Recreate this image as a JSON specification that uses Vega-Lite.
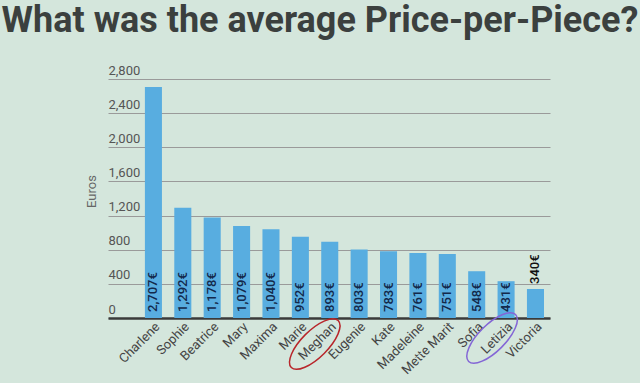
{
  "$schema": "https://vega.github.io/schema/vega-lite/v6.json",
  "width": 442,
  "height": 239,
  "autosize": "none",
  "padding": {"left": 108, "top": 79, "right": 90, "bottom": 65},
  "background": "#d4e6dc",
  "title": {
    "text": "What was the average Price-per-Piece?",
    "font": "Roboto",
    "fontSize": 36,
    "fontWeight": "bold",
    "color": "#3b403e",
    "anchor": "middle",
    "frame": "group",
    "dx": -9,
    "offset": 24
  },
  "config": {
    "view": {"stroke": null},
    "axisY": {
      "labelAlign": "left",
      "labelBaseline": "bottom",
      "labelPadding": 0,
      "labelOffset": -2,
      "labelOverlap": false,
      "labelBound": false,
      "labelFont": "Roboto",
      "labelFontSize": 13,
      "labelColor": "#555555",
      "ticks": false,
      "domain": false,
      "gridColor": "#9a9a9a",
      "gridWidth": 1,
      "titleFont": "Roboto",
      "titleFontSize": 13,
      "titleFontWeight": "normal",
      "titleColor": "#666666",
      "titleX": -10,
      "titleY": 112,
      "titleAngle": -90,
      "titleAlign": "center",
      "titleBaseline": "bottom"
    }
  },
  "data": {
    "values": [
      {"name": "Charlene", "price": 2707},
      {"name": "Sophie", "price": 1292},
      {"name": "Beatrice", "price": 1178},
      {"name": "Mary", "price": 1079},
      {"name": "Maxima", "price": 1040},
      {"name": "Marie", "price": 952},
      {"name": "Meghan", "price": 893},
      {"name": "Eugenie", "price": 803},
      {"name": "Kate", "price": 783},
      {"name": "Madeleine", "price": 761},
      {"name": "Mette Marit", "price": 751},
      {"name": "Sofia", "price": 548},
      {"name": "Letizia", "price": 431},
      {"name": "Victoria", "price": 340}
    ]
  },
  "encoding": {
    "x": {
      "field": "name",
      "type": "nominal",
      "sort": null,
      "scale": {"paddingInner": 0.42, "paddingOuter": 0.73, "align": 0.86},
      "axis": {
        "title": null,
        "labelAngle": -45,
        "labelFont": "Roboto",
        "labelFontSize": 13,
        "labelColor": "#444444",
        "labelPadding": 2,
        "labelOverlap": false,
        "ticks": false,
        "domainColor": "#3a3a3a",
        "domainWidth": 2.5
      }
    },
    "y": {
      "field": "price",
      "type": "quantitative",
      "scale": {"domain": [0, 2800], "nice": false},
      "axis": {
        "title": "Euros",
        "values": [0, 400, 800, 1200, 1600, 2000, 2400, 2800],
        "format": ",.0f",
        "labelOverlap": false
      }
    }
  },
  "layer": [
    {
      "mark": {"type": "bar", "color": "#58ade0"}
    },
    {
      "transform": [
        {"filter": "datum.price >= 400"},
        {"calculate": "format(datum.price, ',') + '€'", "as": "label"}
      ],
      "mark": {
        "type": "text",
        "angle": 270,
        "align": "left",
        "baseline": "middle",
        "dx": 6,
        "font": "Roboto",
        "fontSize": 13,
        "fontWeight": 500,
        "color": "#13294b"
      },
      "encoding": {
        "y": {
          "datum": 0,
          "type": "quantitative",
          "axis": {
            "title": "Euros",
            "values": [0, 400, 800, 1200, 1600, 2000, 2400, 2800],
            "format": ",.0f",
            "labelOverlap": false
          }
        },
        "text": {"field": "label"}
      }
    },
    {
      "transform": [
        {"filter": "datum.price < 400"},
        {"calculate": "format(datum.price, ',') + '€'", "as": "label"}
      ],
      "mark": {
        "type": "text",
        "angle": 270,
        "align": "left",
        "baseline": "middle",
        "dx": 5,
        "font": "Roboto",
        "fontSize": 13,
        "fontWeight": 500,
        "color": "#111111"
      },
      "encoding": {
        "text": {"field": "label"}
      }
    },
    {
      "transform": [{"filter": "datum.name == 'Meghan'"}],
      "mark": {
        "type": "point",
        "shape": "M 0.707,-0.707 C 0.863,-0.551 0.673,-0.107 0.283,0.283 C -0.107,0.673 -0.551,0.863 -0.707,0.707 C -0.863,0.551 -0.673,0.107 -0.283,-0.283 C 0.107,-0.673 0.551,-0.863 0.707,-0.707 Z",
        "size": 4400,
        "filled": false,
        "clip": false,
        "stroke": "#b8262b",
        "strokeWidth": 1.5,
        "strokeOpacity": 1,
        "opacity": 1,
        "xOffset": -15
      },
      "encoding": {
        "y": {
          "datum": -305,
          "type": "quantitative",
          "axis": {
            "title": "Euros",
            "values": [0, 400, 800, 1200, 1600, 2000, 2400, 2800],
            "format": ",.0f",
            "labelOverlap": false
          }
        }
      }
    },
    {
      "transform": [{"filter": "datum.name == 'Letizia'"}],
      "mark": {
        "type": "point",
        "shape": "M 0.707,-0.707 C 0.863,-0.551 0.673,-0.107 0.283,0.283 C -0.107,0.673 -0.551,0.863 -0.707,0.707 C -0.863,0.551 -0.673,0.107 -0.283,-0.283 C 0.107,-0.673 0.551,-0.863 0.707,-0.707 Z",
        "size": 4400,
        "filled": false,
        "clip": false,
        "stroke": "#8466d6",
        "strokeWidth": 1.5,
        "strokeOpacity": 1,
        "opacity": 1,
        "xOffset": -14
      },
      "encoding": {
        "y": {
          "datum": -234,
          "type": "quantitative",
          "axis": {
            "title": "Euros",
            "values": [0, 400, 800, 1200, 1600, 2000, 2400, 2800],
            "format": ",.0f",
            "labelOverlap": false
          }
        }
      }
    }
  ]
}
